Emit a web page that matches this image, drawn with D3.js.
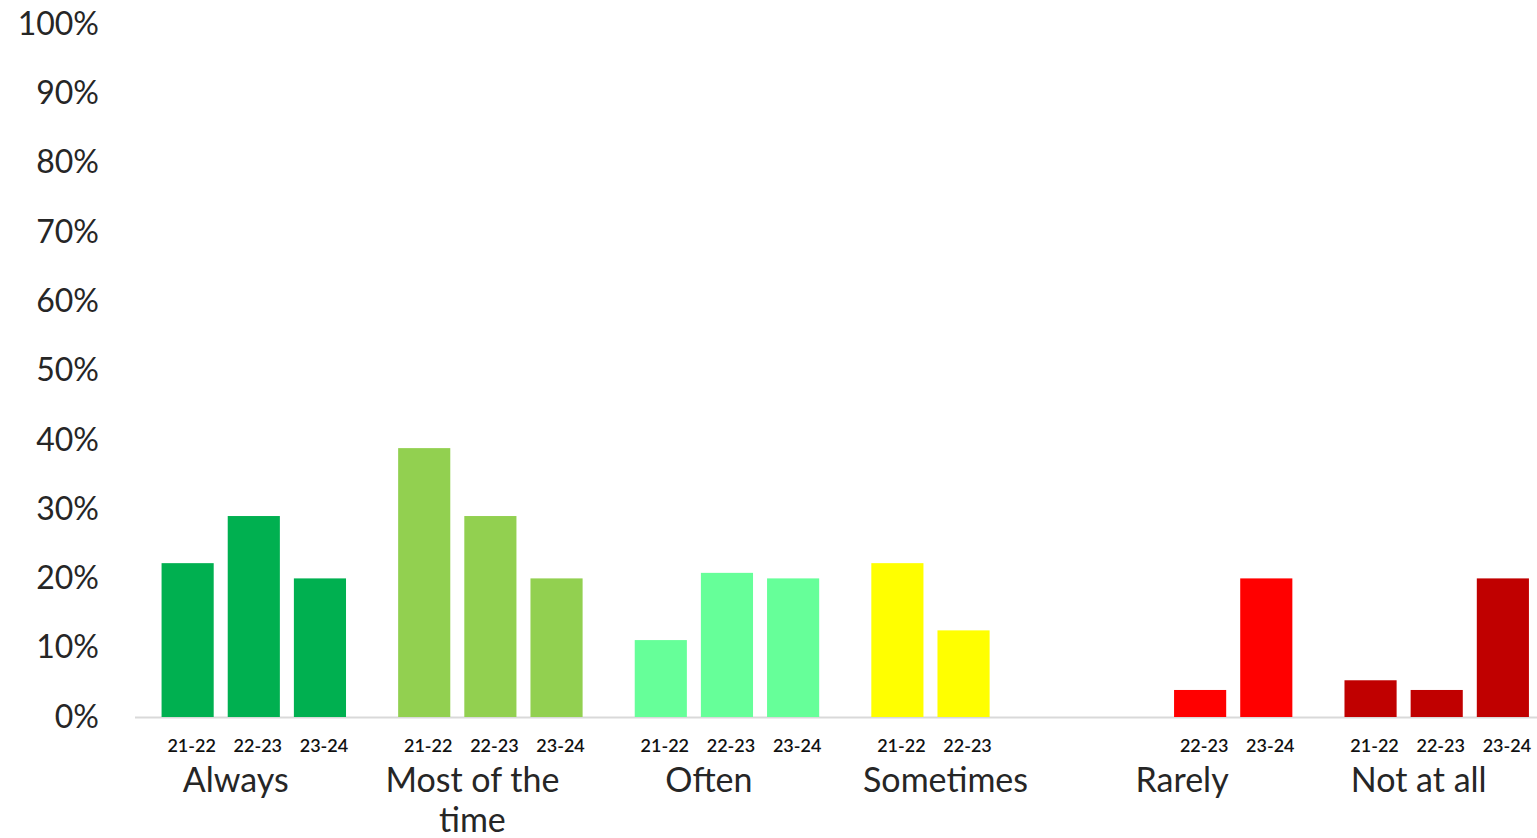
<!DOCTYPE html>
<html>
<head>
<meta charset="utf-8">
<script src="https://cdn.jsdelivr.net/npm/d3@7"></script>
<style>
  body { margin: 0; background: #fff; }
  text { font-family: Lato, "Open Sans", sans-serif; fill: #262626; }
</style>
</head>
<body>
<svg id="chart" width="1537" height="838"></svg>
<script>
// chart values (share of responses, 0-100)
var categories = ["Always", "Most of the time", "Often", "Sometimes", "Rarely", "Not at all"];
var years = ["21-22", "22-23", "23-24"];
var values2122 = [22.2, 38.8, 11.1, 22.2, null, 5.3];
var values2223 = [29.0, 29.0, 20.8, 12.5, 3.9, 3.9];
var values2324 = [20.0, 20.0, 20.0, null, 20.0, 20.0];
var colours = ["#00B050", "#92D050", "#66FF99", "#FFFF00", "#FF0000", "#C00000"];
var yTicks = [0, 10, 20, 30, 40, 50, 60, 70, 80, 90, 100];

var series = [values2122, values2223, values2324];

var svg = d3.select("svg#chart");

// scales
var x0 = d3.scaleBand()
  .domain(categories)
  .range([135.5, 1555])
  .paddingInner(0)
  .paddingOuter(0);

var x1 = d3.scaleBand()
  .domain(years)
  .range([0, x0.bandwidth()])
  .paddingInner(0.212)
  .paddingOuter(0.394);

var y = d3.scaleLinear()
  .domain([0, 100])
  .range([717, 24]);

// y axis, labels only
var yAxis = svg.append("g")
  .attr("transform", "translate(99,0)")
  .call(d3.axisLeft(y).tickValues(yTicks).tickSize(0).tickPadding(0)
    .tickFormat(function (d) { return d + "%"; }));
yAxis.select(".domain").remove();
yAxis.selectAll("text")
  .style("font-family", "Lato, 'Open Sans', sans-serif")
  .style("font-size", "32px")
  .attr("fill", "#262626");

// flatten the data into one list of bars
var bars = [];
categories.forEach(function (cat, i) {
  years.forEach(function (yr, j) {
    var v = series[j][i];
    if (v !== null) {
      bars.push({cat: cat, year: yr, value: v, colour: colours[i]});
    }
  });
});

// baseline
svg.append("line")
  .attr("x1", 135)
  .attr("x2", 1537)
  .attr("y1", y(0) + 0.5)
  .attr("y2", y(0) + 0.5)
  .attr("stroke", "#d9d9d9")
  .attr("stroke-width", 2);

// bars
svg.append("g")
  .selectAll("rect")
  .data(bars)
  .enter()
  .append("rect")
  .attr("x", function (d) { return x0(d.cat) + x1(d.year); })
  .attr("y", function (d) { return y(d.value); })
  .attr("width", x1.bandwidth())
  .attr("height", function (d) { return y(0) - y(d.value); })
  .attr("fill", function (d) { return d.colour; });

// year labels under each bar
svg.append("g")
  .selectAll("text")
  .data(bars)
  .enter()
  .append("text")
  .attr("x", function (d) { return x0(d.cat) + x1(d.year) + x1.bandwidth() / 2 + 4; })
  .attr("y", 752)
  .attr("text-anchor", "middle")
  .style("font-size", "18px")
  .style("font-weight", "600")
  .style("fill", "#111")
  .text(function (d) { return d.year; });

// category labels (long ones wrap onto two lines)
var catLabels = svg.append("g")
  .selectAll("text")
  .data(categories)
  .enter()
  .append("text")
  .attr("x", function (d) { return x0(d) + x0.bandwidth() / 2 - 18; })
  .attr("y", 792)
  .attr("text-anchor", "middle")
  .style("font-size", "34px");

catLabels.each(function (d) {
  var lines = d === "Most of the time" ? ["Most of the", "time"] : [d];
  var t = d3.select(this);
  var cx = t.attr("x");
  lines.forEach(function (line, k) {
    t.append("tspan")
      .attr("x", cx)
      .attr("dy", k === 0 ? 0 : 40)
      .text(line);
  });
});
</script>
</body>
</html>
